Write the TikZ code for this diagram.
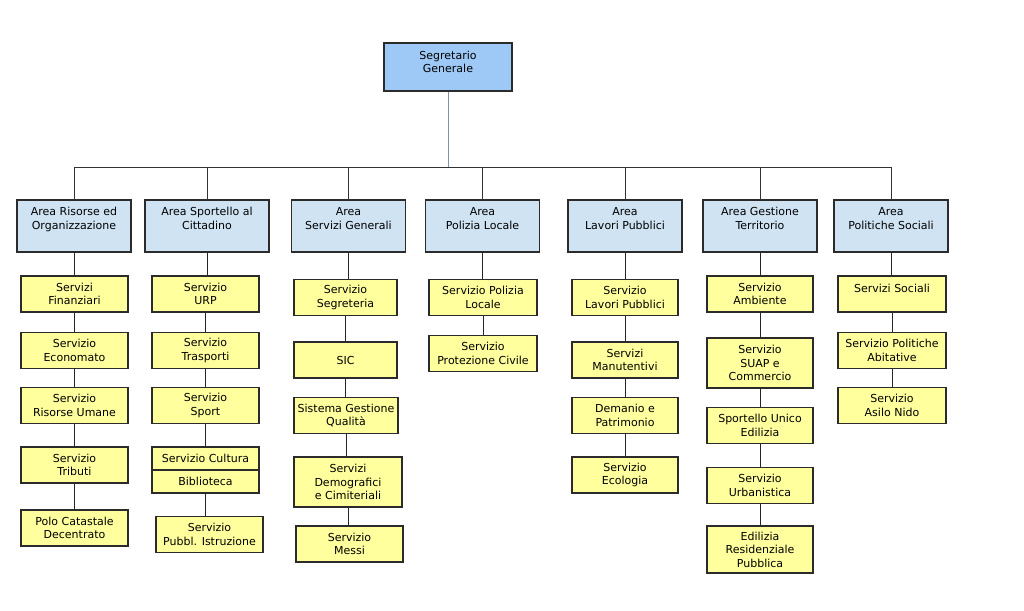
\documentclass[tikz,border=0pt]{standalone}
\usepackage{fontspec}
\setmainfont{DejaVu Sans}
\usetikzlibrary{positioning}

\definecolor{topblue}{HTML}{9EC8F6}
\definecolor{areablue}{HTML}{CFE3F3}
\definecolor{servyellow}{HTML}{FFFF9E}
\definecolor{boxline}{HTML}{2B2B2B}
\definecolor{stemline}{HTML}{7F93AA}

\begin{document}
\begin{tikzpicture}[x=1pt,y=-1pt,
    font=\fontsize{11}{13.5}\selectfont,
    box/.style={rectangle,draw=boxline,line width=1.1pt,align=center,
                inner sep=1pt,minimum width=107pt,minimum height=36pt},
    capo/.style={box,fill=topblue,minimum width=128pt,minimum height=48pt,text depth=10pt},
    area/.style={box,fill=areablue,minimum width=114pt,minimum height=52pt,text depth=15pt},
    serv/.style={box,fill=servyellow},
    link/.style={draw=black!85,line width=0.8pt}]

  \useasboundingbox (0,0) rectangle (1024,610);

  % vertice
  \node[capo] (SG) at (448,67) {Segretario\\Generale};

  % aree
  \node[area]                        (A1) at (74,226)    {Area Risorse ed\\Organizzazione};
  \node[area,minimum width=124pt]    (A2) at (207,226)   {Area Sportello al\\Cittadino};
  \node[area]                        (A3) at (348.5,226) {Area\\Servizi Generali};
  \node[area]                        (A4) at (482.5,226) {Area\\Polizia Locale};
  \node[area]                        (A5) at (625,226)   {Area\\Lavori Pubblici};
  \node[area]                        (A6) at (760,226)   {Area Gestione\\Territorio};
  \node[area]                        (A7) at (891,226)   {Area\\Politiche Sociali};

  % risorse ed organizzazione
  \node[serv] (F) at (74.5,294)   {Servizi\\Finanziari};
  \node[serv] (E) at (74.5,350.5) {Servizio\\Economato};
  \node[serv] (R) at (74.5,405.5) {Servizio\\Risorse Umane};
  \node[serv] (T) at (74.5,465)   {Servizio\\Tributi};
  \node[serv] (P) at (74.5,528)   {Polo Catastale\\Decentrato};

  % sportello al cittadino
  \node[serv] (U)  at (205.5,294)   {Servizio\\URP};
  \node[serv] (TR) at (205.5,350.5) {Servizio\\Trasporti};
  \node[serv] (SP) at (205.5,405.5) {Servizio\\Sport};
  \node[serv,minimum height=23pt] (CU) at (205.5,458.5) {Servizio Cultura};
  \node[serv,minimum height=23pt] (BI) at (205.5,481.5) {Biblioteca};
  \node[serv] (IS) at (209.5,534.5) {Servizio\\Pubbl. Istruzione};

  % servizi generali
  \node[serv,minimum width=103pt] (SE) at (345.5,297.5) {Servizio\\Segreteria};
  \node[serv,minimum width=103pt] (SI) at (345.5,360)   {SIC};
  \node[serv,minimum width=104pt] (Q)  at (346,415.5)   {Sistema Gestione\\Qualità};
  \node[serv,minimum width=108pt,minimum height=50pt] (D) at (348,482) {Servizi\\Demografici\\e Cimiteriali};
  \node[serv] (M) at (349.5,544) {Servizio\\Messi};

  % polizia locale
  \node[serv,minimum width=108pt] (PL) at (483,297.5) {Servizio Polizia\\Locale};
  \node[serv,minimum width=108pt] (PC) at (483,353.5) {Servizio\\Protezione Civile};

  % lavori pubblici
  \node[serv,minimum width=106pt] (LP) at (625,297.5) {Servizio\\Lavori Pubblici};
  \node[serv,minimum width=106pt] (MA) at (625,360)   {Servizi\\Manutentivi};
  \node[serv,minimum width=106pt] (DP) at (625,415.5) {Demanio e\\Patrimonio};
  \node[serv,minimum width=106pt] (EC) at (625,475)   {Servizio\\Ecologia};

  % gestione territorio
  \node[serv,minimum width=106pt] (AM) at (760,294) {Servizio\\Ambiente};
  \node[serv,minimum width=106pt,minimum height=50pt] (SU) at (760,363) {Servizio\\SUAP e\\Commercio};
  \node[serv,minimum width=106pt] (ED) at (760,425.5) {Sportello Unico\\Edilizia};
  \node[serv,minimum width=106pt] (UR) at (760,485.5) {Servizio\\Urbanistica};
  \node[serv,minimum width=106pt,minimum height=47pt] (ER) at (760,549.5) {Edilizia\\Residenziale\\Pubblica};

  % politiche sociali
  \node[serv,minimum width=108pt,text depth=12pt] (SS) at (892,294) {Servizi Sociali};
  \node[serv,minimum width=108pt] (AB) at (892,350.5) {Servizio Politiche\\Abitative};
  \node[serv,minimum width=108pt] (AN) at (892,405.5) {Servizio\\Asilo Nido};

  % organigramma
  \coordinate (bus) at (448,167);
  \draw[stemline,line width=0.9pt] (SG) -- (bus);
  \foreach \a in {A1,A2,A3,A4,A5,A6,A7}
    \draw[black!80,line width=0.8pt] (bus) -| (\a.north);

  \foreach \p/\c in {A1/F,F/E,E/R,R/T,T/P,
                     A2/U,U/TR,TR/SP,SP/CU,BI/IS,
                     A3/SE,SE/SI,SI/Q,Q/D,D/M,
                     A4/PL,PL/PC,
                     A5/LP,LP/MA,MA/DP,DP/EC,
                     A6/AM,AM/SU,SU/ED,ED/UR,UR/ER,
                     A7/SS,SS/AB,AB/AN}
    \draw[link] (\p.south) -- (\p.south |- \c.north);
\end{tikzpicture}
\end{document}
